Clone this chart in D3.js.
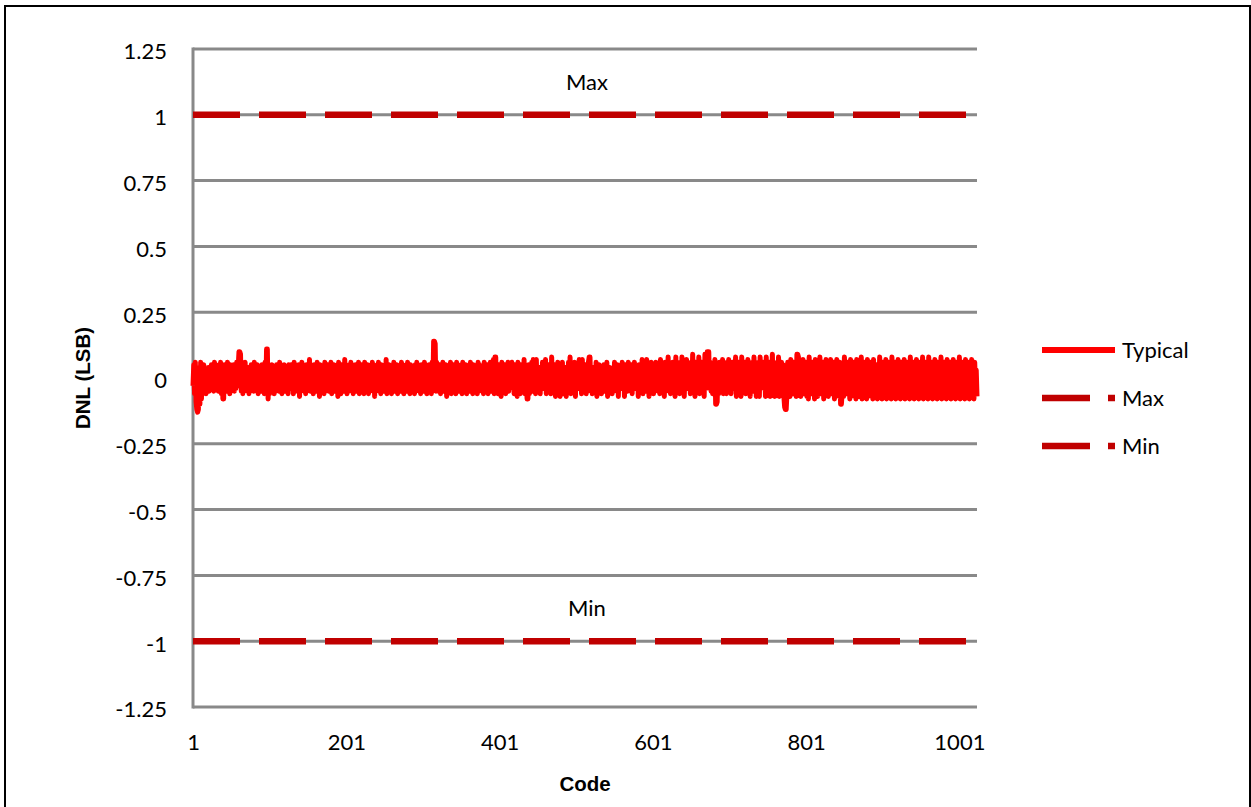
<!DOCTYPE html>
<html>
<head>
<meta charset="utf-8">
<script src="https://cdn.jsdelivr.net/npm/d3@7"></script>
<style>
  html, body { margin: 0; padding: 0; background: #fff; }
  svg { display: block; }
</style>
</head>
<body>
<svg id="chart" width="1251" height="807"></svg>
<script>
// ---------------- DATA ----------------
const yTicks = [-1.25, -1, -0.75, -0.5, -0.25, 0, 0.25, 0.5, 0.75, 1, 1.25];
const yTickLabels = ["-1.25", "-1", "-0.75", "-0.5", "-0.25", "0", "0.25", "0.5", "0.75", "1", "1.25"];
const xTicks = [1, 201, 401, 601, 801, 1001];
const codeFirst = 1, codeLast = 1024;
const maxLimit = 1;
const minLimit = -1;
const seriesNames = ["Typical", "Max", "Min"];
// Typical DNL per code, in hundredths of an LSB (codes 1..1024)
const typicalDNLx100 = [
 -3,5,-6,6,-9,-12,-13,-12,4,-10,6,-8,3,-5,5,-4,2,-6,3,-3,4,-5,2,-4,5,-3,3,-5,6,-2,1,-4,
 4,-5,5,-3,6,-6,3,-8,-8,5,-3,4,-5,6,-4,2,-6,5,-3,4,-2,5,-5,3,-4,6,-3,4,10,10,9,-5,
 3,-6,5,-4,6,-3,2,-5,4,-6,3,-2,5,-4,3,-5,6,-3,2,-4,5,-6,4,-3,3,-5,5,-2,4,-6,6,-4,
 11,11,-8,4,-6,3,-5,5,-3,2,-6,4,-4,5,-3,3,-5,6,-2,4,-6,3,-4,5,-5,2,-3,4,-6,5,-4,3,
 5,-4,2,-6,6,-5,1,-3,4,-5,5,-7,3,-4,6,-2,2,-5,4,-6,5,-2,3,-4,7,-5,4,-3,2,-6,5,-4,
 3,-5,6,-4,2,-7,5,-3,4,-5,3,-6,6,-2,4,-4,5,-5,2,-3,6,-6,3,-4,5,-5,4,-2,3,-7,6,-3,
 4,-6,5,-3,3,-5,7,-4,2,-6,4,-5,5,-3,6,-4,3,-6,4,-2,5,-5,2,-4,6,-6,3,-3,5,-4,4,-6,
 6,-3,2,-5,5,-6,4,-4,3,-2,6,-5,5,-7,2,-3,4,-4,6,-5,3,-6,5,-3,4,-5,2,-4,7,-6,3,-5,
 5,-4,4,-6,3,-3,6,-5,2,-4,5,-6,4,-3,3,-5,6,-4,5,-6,2,-3,4,-5,6,-4,3,-6,5,-2,4,-5,
 3,-6,5,-4,6,-3,2,-5,4,-6,5,-4,3,-5,6,-3,4,-6,2,-4,5,-5,3,-6,6,-4,14,14,13,-5,6,-4,
 4,-5,5,-6,3,-4,6,-5,2,-3,5,-7,4,-4,3,-5,6,-6,4,-3,5,-5,2,-6,6,-4,3,-5,4,-3,5,-6,
 6,-4,3,-5,5,-6,2,-4,4,-5,6,-3,3,-6,5,-4,4,-5,2,-6,6,-3,5,-4,3,-5,4,-6,6,-5,2,-4,
 5,-6,4,-3,6,-5,3,-4,7,-6,8,8,-5,4,-6,5,-3,2,-7,6,-4,4,-5,5,-6,3,-4,6,-5,4,-3,5,
 6,-4,3,-6,5,-5,4,-7,6,-3,2,-6,5,-4,4,-5,7,-6,3,-4,-8,-8,5,-6,4,-3,6,-5,7,-4,3,-6,
 7,-5,3,-2,4,-6,2,-3,6,-4,1,-2,7,-6,3,-5,5,-1,2,-6,8,-4,3,-3,5,-7,2,-2,6,-3,4,-7,
 3,-4,6,-6,2,-2,4,-7,3,-1,6,-5,8,-6,4,-2,1,-5,6,-7,3,-3,5,-4,7,-2,2,-6,7,-5,1,-3,
 5,-6,2,-5,6,8,8,-3,1,-6,4,-5,3,-2,6,-7,2,-3,5,-4,1,-6,3,-2,5,-5,2,-4,6,-7,3,-2,
 4,-5,2,-6,3,-3,6,-2,1,-5,5,-7,3,-3,2,-4,6,-2,4,-7,5,-3,1,-5,6,-4,2,-3,5,-6,3,-2,
 6,-4,2,-3,3,-7,5,-2,4,-4,7,-6,2,-3,5,-5,7,-2,3,-7,4,-3,6,-4,2,-6,3,-3,6,-2,5,-5,
 3,-6,7,-3,5,-4,2,-7,6,-3,4,-2,8,-5,4,-6,3,-3,6,-4,2,-7,8,-2,5,-3,3,-6,6,-4,8,-3,
 5,-7,3,-2,7,-4,6,-3,2,-6,5,-4,9,-3,3,-7,6,-2,5,-4,8,-6,3,-3,6,-2,4,-7,9,-4,3,10,
 10,10,-4,6,-5,5,-6,4,-4,7,-10,-10,-9,5,-6,6,-4,4,-5,7,-6,5,-3,4,-6,6,-5,7,-4,5,-6,4,
 6,-4,3,-3,8,-7,5,-2,6,-4,3,-7,8,-3,4,-5,6,-6,2,-3,7,-4,5,-7,3,-2,6,-5,8,-3,4,-7,
 3,-4,6,-7,8,-3,4,-2,6,-4,3,-7,8,-5,4,-3,6,-7,3,-2,9,-4,6,-7,5,-3,3,-5,8,-7,4,-3,
 6,-5,5,-7,-11,-12,-12,-6,6,-5,4,-7,7,-6,5,-6,6,-5,4,-7,9,9,8,-6,5,-7,6,-5,7,-6,5,-4,
 6,-7,4,-8,8,-4,3,-6,6,-3,5,-8,7,-3,6,-7,4,-4,8,-6,3,-4,6,-8,4,-5,7,-4,3,-7,6,-4,
 7,-6,4,-4,6,-8,3,-6,7,-4,5,-7,6,-10,-10,-6,4,-7,8,-4,3,-6,6,-3,5,-8,7,-6,3,-4,6,-7,
 5,-8,7,-4,6,-7,3,-4,8,-8,4,-6,6,-3,3,-8,7,-5,4,-4,6,-7,3,-8,7,-4,5,-6,5,-8,3,-4,
 8,-6,4,-8,6,-4,3,-7,7,-8,5,-4,6,-7,3,-8,8,-4,4,-6,6,-8,3,-4,7,-7,5,-8,6,-4,3,-6,
 7,-8,4,-4,6,-7,3,-8,8,-4,5,-7,6,-8,3,-4,7,-7,4,-8,6,-4,3,-6,8,-8,5,-4,6,-7,3,-8,
 8,-4,4,-7,6,-8,3,-4,7,-7,5,-8,6,-4,3,-7,8,-8,4,-4,6,-7,3,-8,7,-4,5,-7,6,-8,3,-4,
 7,-7,4,-8,6,-4,3,-7,8,-8,5,-4,6,-7,3,-8,7,-4,4,-7,6,-8,3,-4,7,-7,5,-8,6,-4,3,-7
];
const typicalDNL = typicalDNLx100.map(v => v / 100);

// ---------------- LAYOUT ----------------
const svg = d3.select("#chart");
const plot = { left: 193, right: 977, top: 49, bottom: 707 };
const FONT = "Lato, 'Open Sans', sans-serif";
const gridColor = "#898989";
const typicalColor = "#FF0000";
const limitColor = "#C00000";

const x = d3.scaleLinear().domain([codeFirst, codeLast]).range([plot.left, plot.right]);
const y = d3.scaleLinear().domain([-1.25, 1.25]).range([plot.bottom, plot.top]);

// outer border
svg.append("rect")
  .attr("x", 5).attr("y", 6).attr("width", 1245).attr("height", 812)
  .attr("fill", "none").attr("stroke", "#000").attr("stroke-width", 2);

// gridlines
svg.append("g").selectAll("line").data(yTicks).join("line")
  .attr("x1", plot.left).attr("x2", plot.right)
  .attr("y1", d => y(d)).attr("y2", d => y(d))
  .attr("stroke", gridColor).attr("stroke-width", 3);

// left axis line
svg.append("line")
  .attr("x1", plot.left).attr("x2", plot.left)
  .attr("y1", plot.top - 1.5).attr("y2", plot.bottom + 1.5)
  .attr("stroke", gridColor).attr("stroke-width", 3);

// y axis labels (d3 axis, no domain/ticks)
const yAxis = d3.axisLeft(y).tickValues(yTicks)
  .tickFormat((d, i) => yTickLabels[i]).tickSize(0).tickPadding(26);
const gy = svg.append("g").attr("transform", `translate(${plot.left},0)`).call(yAxis);
gy.select(".domain").remove();
gy.selectAll("text").attr("font-family", FONT).attr("font-size", 22)
  .attr("fill", "#000").attr("dy", "0.45em");

// x axis labels
const xAxis = d3.axisBottom(x).tickValues(xTicks).tickFormat(d3.format("d"))
  .tickSize(0).tickPadding(27);
const gx = svg.append("g").attr("transform", `translate(0,${plot.bottom})`).call(xAxis);
gx.select(".domain").remove();
gx.selectAll("text").attr("font-family", FONT).attr("font-size", 22).attr("fill", "#000");

// axis titles
svg.append("text")
  .attr("transform", `translate(90,${(plot.top + plot.bottom) / 2}) rotate(-90)`)
  .attr("text-anchor", "middle")
  .attr("font-family", "'Liberation Sans', Arial, sans-serif")
  .attr("font-weight", "bold").attr("font-size", 20.5)
  .text("DNL (LSB)");
svg.append("text")
  .attr("x", (plot.left + plot.right) / 2).attr("y", 791)
  .attr("text-anchor", "middle")
  .attr("font-family", "'Liberation Sans', Arial, sans-serif")
  .attr("font-weight", "bold").attr("font-size", 20.5)
  .text("Code");

// Typical series
const line = d3.line().x((d, i) => x(codeFirst + i)).y(d => y(d));
svg.append("path").datum(typicalDNL)
  .attr("d", line)
  .attr("fill", "none").attr("stroke", typicalColor)
  .attr("stroke-width", 5).attr("stroke-linejoin", "round");

// Max / Min limit lines
const limits = [maxLimit, minLimit];
svg.append("g").selectAll("line").data(limits).join("line")
  .attr("x1", x(codeFirst)).attr("x2", x(codeLast))
  .attr("y1", d => y(d)).attr("y2", d => y(d))
  .attr("stroke", limitColor).attr("stroke-width", 6.5)
  .attr("stroke-dasharray", "47,19");

// data labels "Max" / "Min"
const labelCode = 515;
svg.append("text").attr("x", x(labelCode)).attr("y", y(maxLimit) - 25)
  .attr("text-anchor", "middle").attr("font-family", FONT).attr("font-size", 22)
  .text(seriesNames[1]);
svg.append("text").attr("x", x(labelCode)).attr("y", y(minLimit) - 25)
  .attr("text-anchor", "middle").attr("font-family", FONT).attr("font-size", 22)
  .text(seriesNames[2]);

// legend
const legendX = 1042, legendY = [350, 398, 446];
const lg = svg.append("g");
seriesNames.forEach((name, i) => {
  const ly = legendY[i];
  lg.append("line")
    .attr("x1", legendX).attr("x2", legendX + 73)
    .attr("y1", ly).attr("y2", ly)
    .attr("stroke", i === 0 ? typicalColor : limitColor)
    .attr("stroke-width", i === 0 ? 6 : 6.5)
    .attr("stroke-dasharray", i === 0 ? null : "48,18");
  lg.append("text")
    .attr("x", legendX + 80).attr("y", ly + 8)
    .attr("font-family", FONT).attr("font-size", 22)
    .text(name);
});
</script>
</body>
</html>
